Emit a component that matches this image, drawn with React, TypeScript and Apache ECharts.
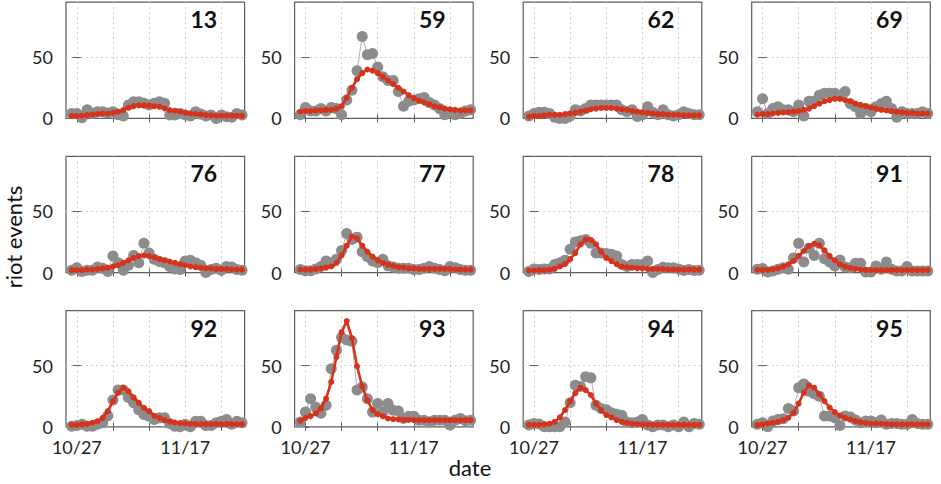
import React, { useEffect, useRef } from "react";
import * as echarts from "echarts";

// Region ids shown in each panel, row by row
const regions = ["13", "59", "62", "69", "76", "77", "78", "91", "92", "93", "94", "95"];

// Day offsets relative to 10/27; first observation is 10/26, one per day
const firstDay = -1;
const xTickDays = [0, 7, 14, 21, 28];
const xLabelDays = [0, 21];
const xLabelText = ["10/27", "11/17"];
const yTickValues = [0, 50];
const yGridValues = [50];

// Observed daily riot events (grey) and fitted curve (red) per region
const obs13 = [4, 4, 0.5, 7, 4, 5.5, 5.5, 4.5, 5.5, 3, 2, 11, 13.7, 13.7, 12.3, 11, 12.3, 13.7, 12.3, 2.7, 2.7, 4, 2.7, 2, 5.5, 3.5, 2, 2.7, 0, 2.7, 1.4, 1, 4, 2.7];
const fit13 = [2, 2, 2.2, 2.7, 3.3, 3.6, 4, 4, 4.6, 5.5, 6.8, 8.7, 10, 10.7, 10.7, 10.4, 10, 9.5, 8.2, 6.8, 6.3, 5.5, 4.6, 4, 3.6, 3.3, 2.7, 2.5, 2.2, 2.2, 2.2, 2.2, 2.2, 2.2];

const obs59 = [3, 9, 6, 6, 8, 6, 9, 8, 3, 15, 23, 39, 67, 52, 53, 42, 34, 31, 31, 22, 10, 14, 15, 16, 17, 13, 11, 8, 3, 5, 3, 4, 6, 7];
const fit59 = [5.5, 6, 6, 6.5, 6.5, 7, 7, 8, 10, 17, 25, 32, 37, 40, 39, 37, 34, 31, 28, 25, 22, 19, 16.5, 14.5, 13, 11.5, 10, 9, 8, 7.5, 7, 6.5, 6.5, 6.5];

const obs62 = [2, 4, 5, 5, 4, 1, 0, 0, 2, 7, 6, 8, 11, 11, 11, 11, 11, 11, 7, 5.5, 7, 1.5, 3, 9.5, 5, 3, 7, 3, 2, 3, 5.5, 4, 3, 3];
const fit62 = [1.5, 2, 2, 2.5, 3, 3, 3, 3.5, 4, 4.5, 5.5, 6.5, 7.5, 8, 8.5, 8.5, 8.5, 8, 7.5, 7, 6, 5.5, 5, 4.5, 4, 3.5, 3.5, 3, 3, 3, 2.5, 2.5, 2.5, 2.5];

const obs69 = [5.5, 16, 4, 8, 9.5, 7, 7, 5.5, 11, 2, 14, 14, 19, 20.5, 20.5, 20.5, 19, 22, 12, 9.5, 4, 8, 5.5, 9.5, 12, 14, 8, 1, 5.5, 4, 4, 4, 5.5, 4];
const fit69 = [3, 3.5, 3.5, 4, 4.5, 5, 5, 5.5, 6, 7, 8, 10, 12, 14, 15, 16, 16, 15, 14, 12, 11, 10, 9, 8, 7, 6.5, 6, 5.5, 5, 4.5, 4.5, 4, 4, 4];

const obs76 = [2, 4, 1, 2, 2, 4.5, 3.5, 1, 13.6, 8, 2, 6, 14, 8, 24, 16, 11, 9, 8, 5, 3, 2.5, 9.5, 10, 8, 6, 0, 2.5, 3.5, 2, 5, 4.5, 2.5, 2];
const fit76 = [2, 2, 2, 2.5, 2.5, 3, 3.5, 4, 5, 6, 8, 10, 12, 13.5, 14, 13.5, 12.5, 11, 10, 9, 8, 7, 6, 5, 4.5, 4, 3.5, 3.5, 3, 3, 3, 2.5, 2.5, 2.5];

const obs77 = [2.5, 1.5, 1.5, 3, 5, 9.5, 8, 11, 18, 32, 27, 29, 17, 13, 9.5, 8, 11, 5.5, 4.5, 3.5, 3.5, 3.5, 2.5, 2.5, 3.5, 5, 3.5, 2.5, 1.5, 5, 4, 2.5, 2, 2];
const fit77 = [2.5, 2.5, 2.5, 3, 3.5, 4, 5, 8, 14, 22, 29.5, 28, 22, 17, 13, 10, 8, 6.5, 5.5, 4.5, 4, 3.5, 3.5, 3, 3, 3, 3, 3, 3, 3, 2.5, 2.5, 2.5, 2.5];

const obs78 = [1, 3, 2.5, 3, 3, 6.7, 8, 10, 19, 25, 26, 27, 24, 16, 16, 15.6, 15, 13.6, 6.7, 5, 6.7, 6.7, 6.7, 9.4, 0, 2.5, 4.4, 4, 4, 3, 1.7, 2.5, 1.7, 2];
const fit78 = [1.7, 1.7, 2, 2, 2.5, 3, 5, 7, 11, 16, 23, 27, 26.7, 23, 17, 12, 9.4, 7, 5, 4.4, 4, 3.5, 3.5, 3, 3, 3, 3, 2.5, 2.5, 2.5, 2.5, 2.5, 2.5, 2.5];

const obs91 = [2.7, 3.3, 0.5, 1.4, 2.7, 4, 2.7, 12, 24, 8.7, 20, 14, 24, 11.4, 8.7, 5.4, 10.3, 4.6, 4, 7.6, 7.6, 0.5, 0.5, 5.4, 2.7, 8.7, 2.7, 1.4, 1.4, 4.9, 1.4, 1.4, 1.4, 1.4];
const fit91 = [2.2, 2.2, 2.2, 2.7, 3.5, 4.9, 6.8, 9.5, 13.6, 17.7, 21.7, 23.6, 22.3, 18.2, 13.6, 10, 6.8, 4.9, 3.8, 3, 2.4, 2.2, 2, 2, 2, 2, 2, 2, 2, 2, 2, 2, 2, 2];

const obs92 = [0.5, 1, 2, 0.5, 0.5, 2, 3.3, 9, 22, 30, 30, 24, 19.6, 14, 10, 8.7, 6, 7.3, 7.3, 2.7, 0.5, 0, 2, 0, 4.6, 4.6, 1, 1, 3.3, 4.6, 6, 2, 4.6, 3.3];
const fit92 = [1.6, 1.6, 2, 2.4, 3.3, 4.6, 7.3, 12.8, 21, 28, 32, 29, 24, 19.6, 15.5, 12.8, 9, 7.3, 5.4, 4.3, 3.5, 3, 2.7, 2.4, 2.2, 2.2, 2.2, 2.2, 2.2, 2.2, 2.2, 2.2, 2.2, 2.2];

const obs93 = [4, 12, 23, 16, 11, 17.7, 47.5, 62.5, 73, 71, 70, 30, 32.6, 23, 12, 19, 12, 19, 13.6, 13, 6.8, 8.7, 8.7, 5.4, 5.4, 4, 5.4, 5.4, 5.4, 1.4, 5.4, 6.8, 4.9, 5.4];
const fit93 = [4.9, 7.3, 8.7, 10.9, 15, 23, 36.7, 57, 77.4, 86.4, 72.6, 49.5, 33, 21.7, 13.6, 10.3, 8.7, 6.8, 6.2, 6, 5.8, 5.6, 5.5, 5.4, 5.4, 5.4, 5.4, 5.4, 5.4, 5.4, 5.4, 5.4, 5.4, 5.4];

const obs94 = [1.4, 2.7, 2.2, 0, 0, 0, 0, 4, 19.6, 34, 33, 41, 40, 17.7, 15, 14, 11.4, 10.3, 9.5, 4, 3.3, 4, 6, 1.4, 0, 1.4, 1.4, 0, 1.4, 0, 4, 0, 2.7, 2];
const fit94 = [1.6, 1.6, 1.6, 2, 2.5, 4, 7.7, 13.7, 21, 27.5, 32, 30, 26, 19, 13.7, 9.6, 7.7, 5.5, 4, 3.3, 2.5, 2.2, 2, 1.8, 1.6, 1.6, 1.6, 1.6, 1.6, 1.6, 1.6, 1.6, 1.6, 1.6];

const obs95 = [2, 3.3, 0, 4.7, 6, 6.6, 15, 13, 32, 35, 29, 27, 25, 8.8, 8.8, 7.4, 1, 8.8, 8, 5.5, 3.3, 4.7, 4.7, 3.3, 5.5, 2, 2.7, 2.7, 2, 2, 6, 2.7, 2, 2];
const fit95 = [1.4, 2, 2.7, 3.3, 4, 5.5, 7.4, 11.5, 19, 28, 34, 32, 26.4, 21, 15.7, 12, 9.3, 7.4, 6, 4.7, 3.8, 3.3, 2.7, 2.7, 2.5, 2.2, 2, 2, 2, 2, 2, 2, 2, 2];

const observed = [obs13, obs59, obs62, obs69, obs76, obs77, obs78, obs91, obs92, obs93, obs94, obs95];
const fitted = [fit13, fit59, fit62, fit69, fit76, fit77, fit78, fit91, fit92, fit93, fit94, fit95];

const W = 941;
const H = 484;
const colLeft = [66, 294.6, 523.2, 751.7];
const rowTop = [2.2, 156.4, 310.6];
const panelW = 178.6;
const panelH = 116.2;
const xMin = -2.1;
const xMax = 32.5;
const yMax = 95;

const FONT = "Lato, 'DejaVu Sans', sans-serif";
const GREY = "#8c8c8c";
const RED = "#d6321c";
const FRAME = "#5e5e5e";

const toPoints = (vals: number[]) => vals.map((v, i) => [firstDay + i, v]);

function buildOption() {
  const grid: any[] = [];
  const xAxis: any[] = [];
  const yAxis: any[] = [];
  const series: any[] = [];
  const title: any[] = [];

  regions.forEach((name, k) => {
    const row = Math.floor(k / 4);
    const col = k % 4;
    const left = colLeft[col];
    const top = rowTop[row];
    grid.push({
      left,
      top,
      width: panelW,
      height: panelH,
      show: true,
      borderColor: FRAME,
      borderWidth: 1.2,
      backgroundColor: "transparent",
    });

    const tick = { show: true, inside: true, length: 4, lineStyle: { color: FRAME, width: 1 } };
    const dotted = { show: true, lineStyle: { color: "#cfcfcf", width: 1, type: [2, 3] } };

    // bottom x axis with vertical grid lines and (last row only) date labels
    xAxis.push({
      type: "value",
      gridIndex: k,
      position: "bottom",
      min: xMin,
      max: xMax,
      axisLine: { show: false },
      axisTick: { ...tick, customValues: xTickDays },
      splitLine: dotted,
      axisLabel: {
        show: row === 2,
        customValues: xLabelDays,
        formatter: (v: number) => xLabelText[xLabelDays.indexOf(v)] ?? "",
        fontFamily: FONT,
        fontSize: 18,
        color: "#222",
        margin: 11,
      },
    });
    // top x axis: tick marks only
    xAxis.push({
      type: "value",
      gridIndex: k,
      position: "top",
      min: xMin,
      max: xMax,
      axisLine: { show: false },
      axisTick: { ...tick, customValues: xTickDays },
      splitLine: { show: false },
      axisLabel: { show: false },
    });
    // left y axis: ticks and labels
    yAxis.push({
      type: "value",
      gridIndex: k,
      position: "left",
      min: 0,
      max: yMax,
      axisLine: { show: false },
      axisTick: { ...tick, customValues: yTickValues },
      splitLine: { show: false },
      axisLabel: {
        customValues: yTickValues,
        fontFamily: FONT,
        fontSize: 18,
        color: "#222",
        margin: 13,
      },
    });
    // right y axis: tick and the horizontal grid line at 50
    yAxis.push({
      type: "value",
      gridIndex: k,
      position: "right",
      min: 0,
      max: yMax,
      axisLine: { show: false },
      axisTick: { ...tick, customValues: yGridValues },
      splitLine: dotted,
      axisLabel: { show: false },
    });

    series.push({
      type: "line",
      xAxisIndex: 2 * k,
      yAxisIndex: 2 * k,
      data: toPoints(observed[k]),
      symbol: "circle",
      symbolSize: 11,
      itemStyle: { color: GREY },
      lineStyle: { color: "#9c9c9c", width: 0.8 },
      z: 2,
    });
    series.push({
      type: "line",
      xAxisIndex: 2 * k,
      yAxisIndex: 2 * k,
      data: toPoints(fitted[k]),
      symbol: "circle",
      symbolSize: 6,
      itemStyle: { color: RED },
      lineStyle: { color: RED, width: 2.6 },
      z: 3,
    });

    title.push({
      text: name,
      right: W - (left + panelW - 27.5),
      top: top + 5.5,
      padding: 0,
      textStyle: { fontFamily: FONT, fontWeight: "bold", fontSize: 23, color: "#111" },
    });
  });

  return {
    animation: false,
    backgroundColor: "#ffffff",
    title,
    grid,
    xAxis,
    yAxis,
    series,
    graphic: [
      {
        type: "text",
        x: 13,
        y: 237,
        rotation: Math.PI / 2,
        style: {
          text: "riot events",
          font: `22px ${FONT}`,
          fill: "#111",
          textAlign: "center",
          textVerticalAlign: "middle",
        },
      },
      {
        type: "text",
        x: 470,
        y: 467,
        style: {
          text: "date",
          font: `22px ${FONT}`,
          fill: "#111",
          textAlign: "center",
          textVerticalAlign: "middle",
        },
      },
    ],
  };
}

export default function App() {
  const ref = useRef<HTMLDivElement>(null);
  useEffect(() => {
    if (!ref.current) return;
    const chart = echarts.init(ref.current, undefined, { renderer: "svg" });
    chart.setOption(buildOption());
    return () => chart.dispose();
  }, []);
  return (
    <div
      ref={ref}
      style={{ position: "fixed", left: 0, top: 0, width: W, height: H, background: "#fff" }}
    />
  );
}
